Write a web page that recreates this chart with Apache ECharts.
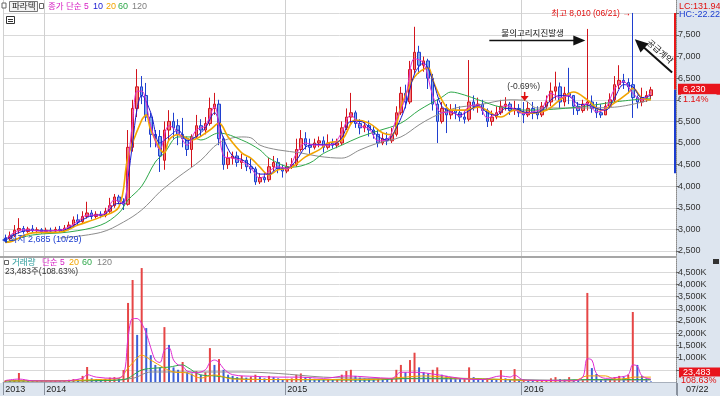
<!DOCTYPE html>
<html><head><meta charset="utf-8">
<script src="https://cdn.jsdelivr.net/npm/echarts@6/dist/echarts.min.js"></script>
<style>html,body{margin:0;padding:0;background:#fff}#c{width:720px;height:396px}</style>
</head><body><div id="c"></div>
<script>
// ---- weekly candles (week starting 2013-10-28) ----
const opens = [2800,2780,2850,2980,3020,2950,3010,2970,2990,2950,2980,2960,3000,2970,3030,3100,3220,3180,3300,3380,3300,3350,3320,3420,3550,3750,3650,3580,4900,5800,6300,6100,5600,5200,5150,4600,5300,5500,5400,5200,5100,4850,5150,5400,5300,5450,5800,5900,5100,4500,4650,4700,4550,4600,4450,4400,4100,4200,4150,4450,4550,4400,4350,4450,4500,4850,5100,4950,4900,5000,5050,4900,5000,4950,5000,5350,5600,5700,5450,5350,5400,5300,5200,5000,5100,5050,5200,5700,6150,5950,6700,7100,6800,6900,6500,5900,5500,5800,5650,5750,5700,5600,5550,5950,5850,5900,5750,5500,5600,5700,5850,5900,5750,5800,5700,5650,5800,5700,5650,5850,5950,6200,6300,5950,6150,6100,5850,5750,5900,5950,5800,5700,5650,5850,6000,6350,6450,6400,6350,6050,5950,6050,6100];
const closes = [2780,2850,2980,3020,2950,3010,2970,2990,2950,2980,2960,3000,2970,3030,3100,3220,3180,3300,3380,3300,3350,3320,3420,3550,3750,3650,3580,4900,5800,6300,6100,5600,5200,5150,4700,5300,5500,5350,5200,5100,4850,5150,5400,5300,5450,5800,5900,5100,4500,4650,4700,4550,4600,4450,4400,4100,4200,4150,4450,4550,4400,4350,4450,4500,4850,5100,4950,4900,5000,5050,4900,5000,4950,5000,5350,5600,5700,5450,5350,5400,5300,5200,5000,5100,5050,5200,5700,6150,5950,6700,7100,6800,6900,6500,5900,5500,5800,5650,5750,5700,5600,5550,5950,5850,5900,5750,5500,5600,5700,5850,5900,5750,5800,5700,5650,5800,5700,5650,5850,5950,6200,6300,5950,6150,6100,5850,5750,5900,5950,5800,5700,5650,5850,6000,6350,6450,6400,6300,6050,5950,6050,6100,6230];
const lows = [2685,2740,2820,2900,2900,2920,2930,2910,2900,2910,2900,2920,2930,2940,2980,3050,3100,3150,3250,3230,3250,3260,3280,3380,3500,3580,3450,3550,4800,5600,5900,5500,4900,4900,4330,4380,5050,5100,4950,4900,4700,4440,5100,5150,5200,5400,5650,4950,4380,4400,4500,4450,4400,4350,4300,4030,4050,4080,4100,4350,4300,4200,4300,4400,4450,4800,4850,4750,4850,4900,4780,4850,4870,4880,4950,5300,5450,5350,5200,5250,5150,5100,4900,4950,4950,5000,5150,5650,5800,5900,6600,6600,6650,6250,5750,5000,5450,5230,5550,5550,5500,5450,5500,5750,5700,5650,5370,5400,5550,5650,5750,5650,5650,5600,5460,5600,5550,5550,5600,5750,5850,6000,5800,5850,5900,5650,5650,5700,5750,5700,5580,5580,5650,5800,5950,6250,6250,6150,5580,5800,5850,5950,6000];
const highs = [2880,2950,3100,3260,3080,3060,3100,3050,3030,3040,3040,3060,3080,3100,3180,3300,3350,3420,3640,3450,3420,3420,3500,3730,3820,3800,3720,5300,6000,6710,6550,6390,5700,5300,5300,5500,5760,5700,5550,5580,5150,5200,5650,5550,5600,6050,6160,6000,5150,4800,4800,4800,4750,4680,4650,4450,4300,4300,4650,4700,4650,4500,4550,4650,5100,5300,5250,5100,5100,5150,5150,5200,5100,5100,5500,5800,6160,5750,5550,5500,5520,5400,5300,5250,5250,5350,5850,6300,6350,6900,7690,7250,7000,6950,6600,6000,5950,5900,5900,5900,5850,5750,6920,6100,6050,6000,5800,5750,5850,6000,6060,5950,5980,5900,5950,5950,5950,5850,5950,6100,6400,6650,6400,6300,6740,6100,5950,6000,7640,6100,5950,5900,5950,6150,6550,6800,6600,6500,8010,6100,6280,6200,6300];
// volume per week, thousands of shares
const volumesK = [60,45,80,370,50,40,35,45,30,30,35,40,30,50,90,120,100,250,615,150,120,100,130,180,200,150,490,3240,4180,1930,4670,2210,1100,700,600,2250,1520,600,500,820,400,350,450,300,400,1390,700,940,500,300,250,200,250,180,220,300,200,150,250,200,150,120,130,150,300,350,200,150,130,120,110,120,100,110,300,450,500,250,180,150,140,120,150,120,110,150,500,700,400,900,1200,600,400,350,500,600,300,250,200,180,150,150,600,200,150,120,150,100,90,490,150,100,530,80,100,70,60,60,70,80,150,200,120,100,200,90,70,80,3650,570,330,120,100,120,200,250,200,300,2870,700,250,150,23.483];

// price moving averages: [week index, value]
const ma5 = [[0,2760],[2,2930],[4,2990],[6,2980],[8,2960],[10,2970],[12,2980],[14,3060],[16,3190],[18,3330],[20,3330],[22,3380],[24,3680],[26,3600],[27,4500],[28,5500],[29,6200],[30,6200],[32,5400],[34,4850],[36,5400],[38,5250],[40,4950],[42,5300],[44,5400],[46,5850],[48,4700],[50,4650],[52,4580],[54,4420],[56,4180],[58,4350],[60,4450],[62,4400],[64,4750],[66,5000],[68,4950],[70,4950],[72,4970],[74,5250],[76,5650],[78,5400],[80,5330],[82,5050],[84,5080],[86,5550],[88,6050],[90,6950],[92,6850],[94,6100],[96,5700],[98,5720],[100,5620],[102,5850],[104,5880],[106,5580],[108,5680],[110,5870],[112,5780],[114,5680],[116,5720],[118,5800],[120,6150],[122,6050],[124,6100],[126,5800],[128,5920],[130,5720],[132,5800],[134,6250],[136,6420],[138,6150],[140,6000],[142,6180]];
const ma10 = [[0,2740],[2,2880],[4,2960],[6,2980],[8,2970],[10,2970],[12,2975],[14,3030],[16,3150],[18,3280],[20,3330],[22,3360],[24,3580],[26,3620],[27,4200],[28,5000],[29,5800],[30,6100],[32,5700],[34,5000],[36,5150],[38,5300],[40,5050],[42,5150],[44,5350],[46,5700],[48,5100],[50,4700],[52,4620],[54,4480],[56,4280],[58,4280],[60,4420],[62,4420],[64,4600],[66,4900],[68,4970],[70,4960],[72,4960],[74,5120],[76,5500],[78,5500],[80,5370],[82,5150],[84,5070],[86,5350],[88,5850],[90,6600],[92,6850],[94,6450],[96,5850],[98,5720],[100,5650],[102,5750],[104,5870],[106,5700],[108,5640],[110,5800],[112,5800],[114,5720],[116,5700],[118,5750],[120,6000],[122,6100],[124,6080],[126,5900],[128,5880],[130,5800],[132,5760],[134,6050],[136,6350],[138,6300],[140,6050],[142,6100]];
const ma20 = [[0,2700],[1,2710],[6,2920],[12,2940],[16,3100],[21,3290],[25,3520],[27,4680],[30,5530],[31,5650],[32,5300],[35,4770],[36,5070],[38,5190],[41,5070],[45,5300],[47,5460],[49,5140],[52,4770],[54,4650],[56,4440],[58,4260],[60,4380],[63,4440],[66,4680],[69,4840],[71,5000],[74,5070],[77,5530],[80,5460],[83,5230],[85,5190],[87,5830],[90,6530],[93,6740],[94,6460],[96,6000],[98,5760],[101,5760],[104,5830],[109,5600],[112,5760],[115,5690],[119,5760],[122,6000],[125,6180],[128,6000],[131,5760],[134,5930],[137,6160],[138,6270],[140,6040],[142,6000]];
const ma60 = [[0,2700],[6,2870],[14,2940],[21,3100],[25,3380],[27,3680],[30,4000],[33,4560],[35,4770],[38,5140],[41,5140],[43,5070],[47,5230],[52,5070],[56,4840],[58,4650],[63,4440],[67,4540],[70,4760],[74,4950],[78,5140],[82,5280],[87,5460],[91,5760],[96,6060],[98,6180],[101,6110],[104,6000],[109,5830],[115,5760],[126,5830],[134,5950],[142,6040]];
const ma120 = [[12,2800],[21,2930],[26,3170],[30,3450],[34,3870],[35,3960],[38,4210],[43,4600],[47,5000],[52,5140],[54,5120],[56,4950],[60,4840],[65,4770],[69,4690],[74,4650],[78,4840],[82,5000],[87,5140],[91,5420],[94,5600],[99,5810],[104,5880],[111,6000],[114,5990],[117,5810],[126,5810],[134,5830],[142,6000]];
// volume moving averages (thousands)
const vma5 = [[0,60],[3,120],[6,50],[12,40],[17,150],[18,300],[20,200],[24,150],[26,300],[27,1800],[28,2600],[29,2600],[30,2400],[31,2000],[32,1400],[33,900],[34,800],[35,1300],[36,1400],[37,900],[38,700],[39,650],[40,450],[42,380],[44,500],[45,800],[46,900],[47,800],[48,550],[50,300],[55,230],[60,200],[65,200],[70,150],[75,250],[80,200],[85,150],[87,400],[90,400],[95,300],[100,150],[105,100],[109,250],[111,200],[112,280],[114,80],[120,60],[125,50],[127,200],[128,950],[129,900],[130,350],[132,150],[135,200],[137,300],[138,700],[139,650],[140,250],[142,120]];
const vma20 = [[0,50],[10,40],[20,100],[25,150],[27,570],[28,780],[30,1100],[32,900],[35,570],[37,410],[40,370],[43,160],[46,290],[50,120],[60,100],[70,100],[80,100],[88,200],[92,250],[100,150],[110,100],[115,60],[125,50],[128,250],[132,250],[134,120],[137,150],[138,200],[142,200]];
const vma60 = [[0,40],[20,60],[26,100],[30,490],[33,570],[36,610],[39,700],[40,610],[43,290],[46,250],[52,120],[60,100],[80,80],[90,150],[100,150],[110,100],[120,60],[128,100],[135,100],[142,100]];
const vma120 = [[0,50],[20,50],[28,150],[32,410],[46,410],[52,410],[60,350],[70,200],[80,150],[100,120],[120,80],[142,80]];

// axis ticks / labels
const yearTicks = [[0,'2013'],[9,'2014'],[62,'2015'],[114,'2016']];
const priceGrid = [2500,3000,3500,4000,4500,5000,5500,6000,6500,7000,7500,8000];
const priceLabels = [2500,3000,3500,4000,4500,5000,5500,6000,6500,7000,7500];
const volGrid = [500,1000,1500,2000,2500,3000,3500,4000,4500];
const volLabels = [1000,1500,2000,2500,3000,3500,4000,4500];
const lastPrice = 6230, highPrice = 8010, lowPrice = 2685, rangeLow = 4300;
const highIdx = 138, lowIdx = 0, newsIdx = 128, newsLevel = 7370, noteIdx = 114;

const padWeeks = 5;
const weeks = [];
const t0 = Date.UTC(2013, 9, 28);
for (let i = 0; i < opens.length + padWeeks; i++) weeks.push(new Date(t0 + i * 7 * 86400000).toISOString().slice(0, 10));
const candles = opens.map((o, i) => [o, closes[i], lows[i], highs[i]]);
const yearIdx = yearTicks.map(d => d[0]);
const isYear = i => yearIdx.indexOf(i) >= 0;
const volBars = volumesK.map((v, i) => ({ value: v, itemStyle: { color: (i === 0 || v >= volumesK[i - 1]) ? '#e64646' : '#3c5fd6' } }));

const NUM = "'Liberation Sans', Arial, sans-serif";
const KR = "'Liberation Sans', 'Noto Sans CJK KR', sans-serif";
const lineS = (name, data, color, w, xi) => ({ type: 'line', name, data, xAxisIndex: xi, yAxisIndex: xi, symbol: 'none', smooth: 0.35, silent: true, lineStyle: { color, width: w }, z: 3 });

const chart = echarts.init(document.getElementById('c'), null, { renderer: 'canvas', width: 720, height: 396 });
chart.setOption({
  animation: false,
  backgroundColor: '#ffffff',
  grid: [{ left: 3, right: 44, top: 0, height: 257 }, { left: 3, right: 44, top: 258, height: 124 }],
  xAxis: [
    { type: 'category', gridIndex: 0, data: weeks, boundaryGap: true, axisLine: { show: false }, axisTick: { show: false }, axisLabel: { show: false },
      splitLine: { show: true, interval: i => isYear(i), lineStyle: { color: '#d0d0d0' } } },
    { type: 'category', gridIndex: 1, data: weeks, boundaryGap: true, axisLine: { show: true, lineStyle: { color: '#a8b0bc' } },
      axisTick: { show: true, interval: i => isYear(i), length: 13, lineStyle: { color: '#8a929e' } },
      axisLabel: { interval: i => isYear(i), formatter: (v, i) => { const f = yearTicks.find(d => d[0] === i); return f ? f[1] : ''; }, align: 'left', margin: 3, fontSize: 9, color: '#222', fontFamily: NUM },
      splitLine: { show: true, interval: i => isYear(i), lineStyle: { color: '#d0d0d0' } } }
  ],
  yAxis: [
    { type: 'value', gridIndex: 0, position: 'right', min: 2361, max: 8310,
      axisLine: { show: true, lineStyle: { color: '#8a8a8a', type: 'dotted' } },
      axisTick: { show: true, customValues: priceGrid, length: 3, lineStyle: { color: '#666' } },
      axisLabel: { customValues: priceLabels, formatter: v => v.toLocaleString('en-US'), fontSize: 9, color: '#333', fontFamily: NUM, margin: 2 },
      splitLine: { show: true, lineStyle: { color: '#d9d9d9' } } },
    { type: 'value', gridIndex: 1, position: 'right', min: 0, max: 5082,
      axisLine: { show: true, lineStyle: { color: '#8a8a8a', type: 'dotted' } },
      axisTick: { show: true, customValues: volGrid, length: 3, lineStyle: { color: '#666' } },
      axisLabel: { customValues: volLabels, formatter: v => v.toLocaleString('en-US') + 'K', fontSize: 9, color: '#333', fontFamily: NUM, margin: 2 },
      splitLine: { show: true, lineStyle: { color: '#d9d9d9' } } }
  ],
  series: [
    { type: 'candlestick', name: 'price', data: candles, xAxisIndex: 0, yAxisIndex: 0, barWidth: 3, silent: true,
      itemStyle: { color: '#f27c7c', color0: '#7ea7ea', borderColor: '#d3141c', borderColor0: '#1f3fcf', borderWidth: 1 } },
    lineS('ma120', ma120, '#8c8c8c', 1, 0),
    lineS('ma60', ma60, '#2ea84a', 1, 0),
    lineS('ma20', ma20, '#f2a400', 1.6, 0),
    lineS('ma10', ma10, '#1a1ad0', 1, 0),
    lineS('ma5', ma5, '#e02ad0', 1, 0),
    { type: 'bar', name: 'vol', data: volBars, xAxisIndex: 1, yAxisIndex: 1, barWidth: 2, silent: true },
    lineS('vma120', vma120, '#8c8c8c', 1, 1),
    lineS('vma60', vma60, '#2ea84a', 1, 1),
    lineS('vma20', vma20, '#f2a400', 1, 1),
    lineS('vma5', vma5, '#e02ad0', 1, 1)
  ]
});

const P = (k, v) => chart.convertToPixel({ gridIndex: 0 }, [k, v]);
const V = (k, v) => chart.convertToPixel({ gridIndex: 1 }, [k, v]);
const BG = '#dde5ef';
const g = [];
const txt = (text, x, y, fill, size, extra, z) => ({ type: 'text', x, y, silent: true, z: z || 50, style: Object.assign({ text, fill, font: size + 'px ' + KR, textAlign: 'left', textVerticalAlign: 'middle' }, extra || {}) });
// strips
g.push({ type: 'rect', shape: { x: 677, y: 0, width: 43, height: 396 }, style: { fill: BG }, z: -100, silent: true });
g.push({ type: 'rect', shape: { x: 0, y: 383, width: 720, height: 13 }, style: { fill: BG }, z: -100, silent: true });
g.push({ type: 'line', shape: { x1: 0, y1: 257, x2: 677, y2: 257 }, style: { stroke: '#a6a6a6', lineWidth: 2 }, z: 40, silent: true });
g.push({ type: 'line', shape: { x1: 677.5, y1: 383, x2: 677.5, y2: 396 }, style: { stroke: '#8a929e', lineWidth: 1 }, z: 40, silent: true });
// top legend
g.push({ type: 'rect', shape: { x: 2, y: 3, width: 4, height: 5 }, style: { fill: '#fff', stroke: '#666', lineWidth: 1 }, z: 50, silent: true });
g.push({ type: 'rect', shape: { x: 9.5, y: 1.5, width: 28, height: 10 }, style: { fill: '#f4f4f4', stroke: '#777', lineWidth: 1 }, z: 50, silent: true });
g.push(txt('파라텍', 12, 7, '#222', 8.5));
g.push({ type: 'rect', shape: { x: 39.5, y: 3.5, width: 4, height: 5 }, style: { fill: '#fff', stroke: '#666', lineWidth: 1 }, z: 50, silent: true });
g.push(txt('종가 단순 5', 48, 7, '#d61cc2', 8.5));
g.push(txt('10', 93, 7, '#1a1ad0', 9));
g.push(txt('20', 106, 7, '#f2a400', 9));
g.push(txt('60', 118, 7, '#2ea84a', 9));
g.push(txt('120', 132, 7, '#808080', 9));
g.push({ type: 'rect', shape: { x: 6.5, y: 16.5, width: 8, height: 7 }, style: { fill: '#fff', stroke: '#333', lineWidth: 1 }, z: 50, silent: true });
g.push({ type: 'line', shape: { x1: 8, y1: 19.5, x2: 13, y2: 19.5 }, style: { stroke: '#333' }, z: 51, silent: true });
g.push({ type: 'line', shape: { x1: 8, y1: 21.5, x2: 13, y2: 21.5 }, style: { stroke: '#333' }, z: 51, silent: true });
// volume legend
g.push({ type: 'rect', shape: { x: 4.5, y: 260.5, width: 4, height: 4 }, style: { fill: '#fff', stroke: '#666', lineWidth: 1 }, z: 50, silent: true });
g.push(txt('거래량', 12, 263, '#2a9a9a', 8.5));
g.push(txt('단순 5', 42, 263, '#d61cc2', 8.5));
g.push(txt('20', 69, 263, '#f2a400', 9));
g.push(txt('60', 82, 263, '#2ea84a', 9));
g.push(txt('120', 97, 263, '#808080', 9));
g.push(txt('23,483주(108.63%)', 5, 272, '#333', 8.5));
g.push({ type: 'rect', shape: { x: 713, y: 259, width: 6, height: 5 }, style: { fill: '#333' }, z: 50, silent: true });
// right axis extras
g.push(txt('LC:131.94', 679, 7, '#e01010', 9, { font: '9px ' + NUM }));
g.push(txt('HC:-22.22', 679, 15, '#1a3cd0', 9, { font: '9px ' + NUM }));
const pTop = P(highIdx, highPrice), pLast = P(highIdx, lastPrice), pLow = P(highIdx, rangeLow);
g.push({ type: 'rect', shape: { x: 674, y: pTop[1], width: 2, height: pLast[1] - pTop[1] }, style: { fill: '#e81818' }, z: 45, silent: true });
g.push({ type: 'rect', shape: { x: 674, y: pLast[1], width: 2, height: pLow[1] - pLast[1] }, style: { fill: '#1a3cd0' }, z: 45, silent: true });
g.push({ type: 'rect', shape: { x: 678, y: pLast[1] - 6, width: 42, height: 11 }, style: { fill: '#e8141c' }, z: 60, silent: true });
g.push(txt(lastPrice.toLocaleString('en-US'), 683, pLast[1] - 0.5, '#ffffff', 9, { font: '9px ' + NUM }, 80));
g.push(txt('1.14%', 681, pLast[1] + 10, '#e01010', 9, { font: '9px ' + NUM, backgroundColor: BG, padding: [1, 8, 1, 2] }, 80));
const vLast = V(opens.length - 1, volumesK[volumesK.length - 1]);
g.push({ type: 'rect', shape: { x: 679, y: vLast[1] - 14, width: 41, height: 10 }, style: { fill: '#e8141c' }, z: 60, silent: true });
g.push(txt('23,483', 683, vLast[1] - 9, '#ffffff', 9, { font: '9px ' + NUM }, 80));
g.push(txt('108.63%', 681, vLast[1] - 0.5, '#e01010', 9, { font: '9px ' + NUM, backgroundColor: BG, padding: [0, 4, 0, 0] }, 80));
g.push(txt('07/22', 686, 390, '#222', 9, { font: '9px ' + NUM }));
// annotations
const hp = P(highIdx, highPrice);
g.push(txt('최고 8,010 (06/21) →', hp[0] - 2, hp[1] + 1, '#e01010', 8.5, { textAlign: 'right' }, 90));
const lp = P(lowIdx, lowPrice);
g.push({ type: 'polygon', shape: { points: [[2, lp[1] - 3], [7, lp[1] - 6], [7, lp[1]]] }, style: { fill: '#1a3cd0' }, z: 90, silent: true });
g.push(txt('최저 2,685 (10/29)', 9, lp[1] - 3, '#1a3cd0', 9, null, 90));
const np = P(newsIdx, newsLevel);
g.push({ type: 'line', shape: { x1: np[0] - 98, y1: np[1], x2: np[0] - 12, y2: np[1] }, style: { stroke: '#111', lineWidth: 1.5 }, z: 50, silent: true });
g.push({ type: 'polygon', shape: { points: [[np[0] - 14, np[1] - 5], [np[0] - 2, np[1]], [np[0] - 14, np[1] + 5]] }, style: { fill: '#111' }, z: 50, silent: true });
g.push(txt('불의고리지진발생', np[0] - 86, np[1] - 7, '#111', 8.5, null, 90));
const tp = P(highIdx, 7400); const tx = tp[0] + 2, ty = tp[1];
const ux = 0.746, uy = 0.665;
g.push({ type: 'line', shape: { x1: tx + 10 * ux, y1: ty + 10 * uy, x2: tx + 50 * ux, y2: ty + 50 * uy }, style: { stroke: '#111', lineWidth: 2 }, z: 50, silent: true });
g.push({ type: 'polygon', shape: { points: [[tx, ty], [tx + 13 * ux + 6 * uy, ty + 13 * uy - 6 * ux], [tx + 13 * ux - 6 * uy, ty + 13 * uy + 6 * ux]] }, style: { fill: '#111' }, z: 50, silent: true });
g.push({ type: 'text', x: tx + 27 * ux + 7 * uy, y: ty + 27 * uy - 7 * ux, rotation: -Math.atan2(uy, ux), silent: true, z: 90, style: { text: '공급계약', fill: '#111', font: '8.5px ' + KR, textAlign: 'center', textVerticalAlign: 'middle' } });
const ap = P(noteIdx, highs[noteIdx]);
g.push(txt('(-0.69%)', ap[0], ap[1] - 15, '#333', 8.5, { textAlign: 'center' }, 90));
g.push({ type: 'line', shape: { x1: ap[0] + 1, y1: ap[1] - 10, x2: ap[0] + 1, y2: ap[1] - 5 }, style: { stroke: '#e01010', lineWidth: 1.5 }, z: 50, silent: true });
g.push({ type: 'polygon', shape: { points: [[ap[0] - 3, ap[1] - 6], [ap[0] + 5, ap[1] - 6], [ap[0] + 1, ap[1] - 1]] }, style: { fill: '#e01010' }, z: 50, silent: true });
chart.setOption({ graphic: g });
</script></body></html>
